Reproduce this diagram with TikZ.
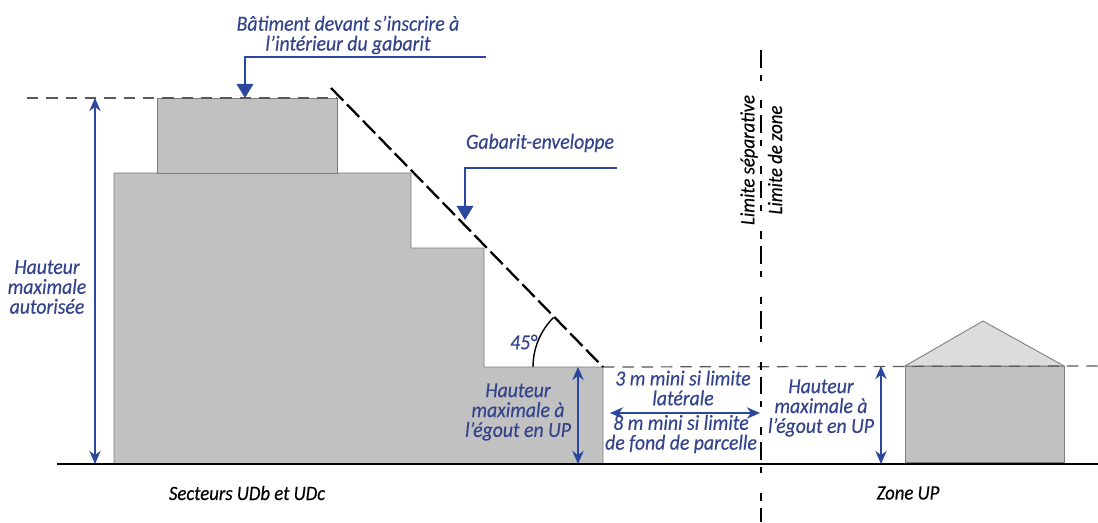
\documentclass[tikz,border=0pt]{standalone}
\usepackage{fontspec}
\setmainfont{Carlito}[ItalicFeatures={FakeBold=0.35,FakeStretch=0.92}]
\usetikzlibrary{arrows.meta}
\definecolor{lblue}{RGB}{44,72,158}
\definecolor{tblue}{RGB}{52,68,140}
\definecolor{wall}{RGB}{194,193,193}
\definecolor{roof}{RGB}{220,220,220}
\definecolor{edge}{RGB}{125,125,125}
\tikzset{
  label/.style={text=tblue,font=\fontsize{12.2}{11.3}\selectfont\itshape,align=center,inner sep=0pt},
  zone/.style={text=black,font=\fontsize{11.6}{11.3}\selectfont\itshape,align=center,inner sep=0pt},
  dim/.style={lblue,line width=0.7pt,{Stealth[width=6.5pt,length=7.5pt]}-{Stealth[width=6.5pt,length=7.5pt]}},
  callout/.style={lblue,line width=0.7pt,-{Triangle[width=9.5pt,length=8pt]}},
  level/.style={black!65,line width=0.7pt,dash pattern=on 6.5pt off 4.5pt}
}
\begin{document}
\begin{tikzpicture}
\useasboundingbox (0,0) rectangle (21.96,10.44);

\fill[white] (0,0) rectangle (21.96,10.44);
\draw[fill=wall,draw=edge,line width=0.5pt] (2.28,1.16) -- ++(0,5.82) -- ++(5.94,0) -- ++(0,-1.5) -- ++(1.46,0) -- ++(0,-2.38) -- ++(2.38,0) -- ++(0,-1.94) -- cycle;
\draw[fill=wall,draw=edge,line width=0.5pt] (3.14,6.98) rectangle (6.74,8.48);
\draw[fill=wall,draw=edge,line width=0.5pt] (18.1,1.2) rectangle (21.28,3.12);
\draw[fill=roof,draw=edge,line width=0.5pt] (18.1,3.12) -- (19.66,4.02) -- (21.28,3.12) -- cycle;

\coordinate (topl) at (0.54,8.48);
\coordinate (topr) at (6.74,8.48);
\coordinate (gabtop) at (6.62,8.68);
\coordinate (gabbot) at (12.06,3.1);
\coordinate (levelr) at (21.96,3.12);
\coordinate (limtop) at (15.22,9.44);
\coordinate (limbot) at (15.22,0);
\coordinate (groundl) at (1.14,1.16);
\coordinate (groundr) at (21.96,1.16);

\draw[level] (topl) -- (topr);
\draw[level] (gabbot) -- (levelr);
\draw[black,line width=1.3pt,dash pattern=on 10pt off 3pt] (gabtop) -- (gabbot);
\draw[black,line width=1pt,dash pattern=on 10pt off 4pt on 3.4pt off 11.3pt on 4.5pt off 4pt] (limtop) -- (limbot);
\draw[black,line width=1.4pt] (groundl) -- (groundr);
\draw[black,line width=0.8pt] (10.66,3.1) arc(180:135:1.4);

\coordinate (hautop) at (1.9,8.48);
\coordinate (haubot) at (1.9,1.16);
\draw[dim] (hautop) -- (haubot);
\coordinate (egouta) at (11.56,3.1);
\coordinate (egoutb) at (11.56,1.16);
\draw[dim] (egouta) -- (egoutb);
\coordinate (egoutc) at (17.62,3.12);
\coordinate (egoutd) at (17.62,1.16);
\draw[dim] (egoutc) -- (egoutd);
\coordinate (retl) at (12.2,2.18);
\coordinate (retr) at (15.2,2.18);
\draw[dim] (retl) -- (retr);

\coordinate (batstart) at (9.72,9.3);
\coordinate (battip) at (4.9,8.48);
\draw[callout] (batstart) -| (battip);
\coordinate (gabstart) at (12.34,7.08);
\coordinate (gabtip) at (9.3,6.04);
\draw[callout] (gabstart) -| (gabtip);

\node[label] (batiment) at (6.96,9.74) {Bâtiment devant s’inscrire à\\l’intérieur du gabarit};
\node[label] (gabarit) at (10.8,7.58) {Gabarit-enveloppe};
\node[label] (maxi) at (0.94,4.7) {Hauteur\\maximale\\autorisée};
\node[label] (angle) at (10.47,3.6) {45°};
\node[label] (egoutg) at (10.36,2.2) {Hauteur\\maximale à\\l’égout en UP};
\node[label] (egoutdr) at (16.42,2.28) {Hauteur\\maximale à\\l’égout en UP};
\node[label] (lateral) at (13.66,2.68) {3 m mini si limite\\latérale};
\node[label] (fond) at (13.62,1.76) {8 m mini si limite\\de fond de parcelle};
\node[zone] (secteurs) at (4.94,0.58) {Secteurs UDb et UDc};
\node[zone] (zoneup) at (18.16,0.58) {Zone UP};
\node[zone,rotate=90] (limsep) at (14.98,7.24) {Limite séparative};
\node[zone,rotate=90] (limzone) at (15.5,7.24) {Limite de zone};
\end{tikzpicture}
\end{document}
